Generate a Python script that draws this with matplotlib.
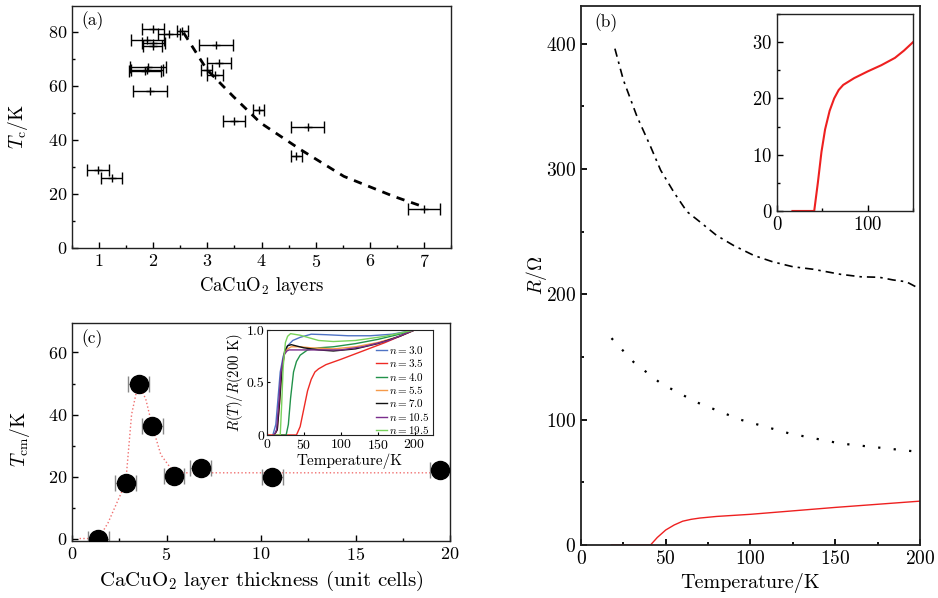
import matplotlib
matplotlib.use('Agg')
import matplotlib.pyplot as plt
from matplotlib.ticker import MultipleLocator

plt.rcParams['font.family'] = 'serif'
plt.rcParams['font.serif'] = ['cmr10', 'DejaVu Serif']
plt.rcParams['mathtext.fontset'] = 'cm'
plt.rcParams['axes.formatter.use_mathtext'] = True
plt.rcParams['axes.unicode_minus'] = False

# ---- panel (a): Tc vs CaCuO2 layers
layers_a = [2.00, 2.29, 2.54, 1.89, 2.00, 1.99, 3.16, 1.90, 1.88, 1.85, 3.22,
            2.99, 3.14, 1.94, 3.95, 3.49, 4.85, 4.64, 0.98, 1.23, 7.00]
tc_a = [80.9, 79.3, 80.2, 76.9, 75.9, 74.7, 74.9, 67.0, 66.0, 65.5, 68.5,
        66.0, 63.8, 58.0, 50.9, 46.9, 44.8, 34.2, 28.8, 25.7, 14.6]
xerr_a = [0.20, 0.20, 0.10, 0.31, 0.21, 0.18, 0.31, 0.33, 0.30, 0.30, 0.22,
          0.10, 0.15, 0.31, 0.10, 0.20, 0.31, 0.10, 0.20, 0.20, 0.30]
fit_x = [2.56, 2.99, 3.48, 3.98, 4.72, 5.52, 6.44, 6.97]
fit_y = [79.6, 66.0, 56.0, 46.3, 36.4, 26.5, 19.1, 15.4]

# ---- panel (c): Tcm vs layer thickness
thick_c = [1.38, 2.84, 3.53, 4.24, 5.40, 6.80, 10.59, 19.47]
tcm_c = [0.0, 18.0, 50.0, 36.4, 20.1, 22.9, 19.7, 22.1]
guide_x = [0.4, 1.4, 1.9, 2.84, 3.15, 3.5, 3.9, 4.24, 4.7, 5.4, 19.5]
guide_y = [0.0, 0.0, 5.0, 18.0, 40.0, 50.0, 45.0, 36.4, 27.0, 21.2, 21.2]

# ---- inset of (c): normalized R(T)
inset_c = [
    ('$n=3.0$', '#4f73c4',
     [8, 12, 15, 18, 22, 28, 35, 45, 60, 80, 110, 140, 170, 200],
     [0, 0.1, 0.35, 0.6, 0.75, 0.85, 0.9, 0.93, 0.96, 0.955, 0.945, 0.945, 0.96, 1.0]),
    ('$n=3.5$', '#ee2a24',
     [0, 40, 45, 50, 55, 60, 65, 70, 80, 100, 130, 160, 200],
     [0, 0, 0.08, 0.25, 0.42, 0.53, 0.6, 0.63, 0.67, 0.72, 0.8, 0.88, 1.0]),
    ('$n=4.0$', '#22924a',
     [20, 26, 29, 32, 36, 40, 45, 55, 70, 90, 120, 150, 180, 200],
     [0, 0, 0.1, 0.35, 0.6, 0.7, 0.76, 0.81, 0.83, 0.84, 0.87, 0.91, 0.96, 1.0]),
    ('$n=5.5$', '#f59a4a',
     [10, 14, 17, 20, 24, 28, 33, 45, 60, 90, 120, 150, 180, 200],
     [0, 0.05, 0.3, 0.6, 0.78, 0.82, 0.84, 0.84, 0.83, 0.82, 0.84, 0.88, 0.94, 1.0]),
    ('$n=7.0$', '#111111',
     [10, 14, 17, 20, 24, 28, 33, 50, 70, 90, 120, 150, 180, 200],
     [0, 0.05, 0.3, 0.6, 0.8, 0.85, 0.86, 0.83, 0.81, 0.80, 0.82, 0.87, 0.94, 1.0]),
    ('$n=10.5$', '#7a2d8c',
     [10, 13, 16, 19, 23, 27, 30, 60, 100, 130, 165, 200],
     [0, 0.05, 0.3, 0.6, 0.76, 0.8, 0.81, 0.81, 0.81, 0.84, 0.9, 1.0]),
    ('$n=19.5$', '#78d25c',
     [12, 18, 20, 22, 25, 28, 32, 45, 70, 90, 120, 160, 200],
     [0, 0, 0.3, 0.65, 0.88, 0.94, 0.965, 0.95, 0.9, 0.89, 0.9, 0.94, 1.0]),
]

# ---- panel (b): R(T)
temp_top = [20, 25, 33, 41, 47, 55, 62.5, 70, 80, 90, 102, 113, 125, 137,
            153, 165, 176, 184, 192, 198]
r_top = [396, 371, 342, 318, 299, 281, 266, 258, 247, 239, 231, 226, 222, 220,
         216, 214, 213.6, 211.5, 210, 205.7]
temp_mid = [18, 31, 47, 68, 94, 123, 153, 198]
r_mid = [165, 146, 129, 114, 100, 89, 81, 74.5]
temp_red = [18, 41, 45, 50, 55, 60, 65, 70, 80, 100, 150, 200]
r_red = [0, 0, 6, 12, 16, 19, 20.5, 21.5, 22.8, 24.5, 30, 35]
temp_ins = [17, 41, 45, 49, 53, 58, 63, 68, 73, 85, 100, 115, 130, 140, 150]
r_ins = [0, 0, 5, 10.5, 14.5, 17.8, 20, 21.5, 22.4, 23.6, 24.8, 25.9, 27.2, 28.5, 30]


def style(ax, size=13, lw=1.0):
    ax.tick_params(which='both', direction='in', labelsize=size, width=lw)
    ax.tick_params(which='major', length=4)
    ax.tick_params(which='minor', length=2.5)
    for s in ax.spines.values():
        s.set_linewidth(lw)
        s.set_color('#222222')


fig = plt.figure(figsize=(9.38, 5.98), dpi=100)

# (a)
ax_a = fig.add_axes([0.0768, 0.5853, 0.404, 0.4047])
ax_a.errorbar(layers_a, tc_a, xerr=xerr_a, fmt='+', color='black', ms=6,
              elinewidth=1.0, capsize=4, capthick=1.0)
ax_a.plot(fit_x, fit_y, color='black', lw=2.0, ls=(0, (3, 2.5)))
ax_a.set_xlim(0.5, 7.5)
ax_a.set_ylim(0, 89.5)
ax_a.xaxis.set_major_locator(MultipleLocator(1))
ax_a.xaxis.set_minor_locator(MultipleLocator(0.5))
ax_a.yaxis.set_major_locator(MultipleLocator(20))
ax_a.yaxis.set_minor_locator(MultipleLocator(10))
style(ax_a)
ax_a.set_xlabel('CaCuO$_2$ layers', fontsize=13.5)
ax_a.set_ylabel(r'$T_{\rm c}$/K', fontsize=14)
ax_a.yaxis.set_label_coords(-0.112, 0.5)
ax_a.text(0.025, 0.94, '(a)', transform=ax_a.transAxes, fontsize=12.5, va='center')

# (c)
ax_c = fig.add_axes([0.0768, 0.0953, 0.403, 0.3645])
ax_c.plot(guide_x, guide_y, color='#f07070', lw=1.0, ls=':', zorder=1)
ax_c.errorbar(thick_c, tcm_c, xerr=0.55, fmt='none', ecolor='#888888',
              elinewidth=1.0, capsize=6, capthick=1.0, zorder=2)
ax_c.plot(thick_c, tcm_c, 'o', color='black', ms=13, zorder=3)
ax_c.set_xlim(0, 20)
ax_c.set_ylim(-0.8, 69.5)
ax_c.xaxis.set_major_locator(MultipleLocator(5))
ax_c.xaxis.set_minor_locator(MultipleLocator(2.5))
ax_c.yaxis.set_major_locator(MultipleLocator(20))
ax_c.yaxis.set_minor_locator(MultipleLocator(10))
style(ax_c)
ax_c.set_xlabel('CaCuO$_2$ layer thickness (unit cells)', fontsize=15)
ax_c.set_ylabel(r'$T_{\rm cm}$/K', fontsize=14)
ax_c.yaxis.set_label_coords(-0.105, 0.47)
ax_c.text(0.025, 0.93, '(c)', transform=ax_c.transAxes, fontsize=12.5, va='center')

# inset of (c)
ax_ci = fig.add_axes([0.2846, 0.2726, 0.177, 0.1756])
for label, col, tt, rr in inset_c:
    ax_ci.plot(tt, rr, color=col, lw=1.0, label=label)
ax_ci.set_xlim(0, 225)
ax_ci.set_ylim(0, 1.0)
ax_ci.set_xticks([0, 50, 100, 150, 200])
ax_ci.set_yticks([0, 0.5, 1.0])
ax_ci.set_yticklabels(['0', '0.5', '1.0'])
style(ax_ci, size=10, lw=0.8)
ax_ci.tick_params(which='major', length=2.5, pad=2)
ax_ci.set_xlabel('Temperature/K', fontsize=11, labelpad=1)
ax_ci.set_ylabel(r'$R(T)/R(200\ \mathrm{K})$', fontsize=10.5, labelpad=1)
ax_ci.legend(loc='upper right', bbox_to_anchor=(1.02, 0.93), frameon=False,
             fontsize=8, handlelength=1.0, handletextpad=0.2,
             labelspacing=0.12, borderpad=0.1)

# (b)
ax_b = fig.add_axes([0.6194, 0.0886, 0.3614, 0.9013])
ax_b.plot(temp_top, r_top, color='black', lw=1.2, ls=(0, (5, 3, 1.5, 3)))
ax_b.plot(temp_mid, r_mid, color='black', lw=1.6, ls=(0, (1, 6)))
ax_b.plot(temp_red, r_red, color='#ee2020', lw=1.0)
ax_b.set_xlim(0, 200)
ax_b.set_ylim(0, 430)
ax_b.xaxis.set_major_locator(MultipleLocator(50))
ax_b.xaxis.set_minor_locator(MultipleLocator(25))
ax_b.yaxis.set_major_locator(MultipleLocator(100))
ax_b.yaxis.set_minor_locator(MultipleLocator(50))
style(ax_b, size=14, lw=1.3)
ax_b.set_xlabel('Temperature/K', fontsize=14.5)
ax_b.set_ylabel(r'$R/\Omega$', fontsize=14)
ax_b.yaxis.set_label_coords(-0.095, 0.5)
ax_b.text(0.04, 0.97, '(b)', transform=ax_b.transAxes, fontsize=12.5, va='center')

# inset of (b)
ax_bi = fig.add_axes([0.8284, 0.6472, 0.145, 0.3294])
ax_bi.plot(temp_ins, r_ins, color='#ee2020', lw=1.5)
ax_bi.set_xlim(0, 150)
ax_bi.set_ylim(0, 35)
ax_bi.xaxis.set_major_locator(MultipleLocator(100))
ax_bi.xaxis.set_minor_locator(MultipleLocator(50))
ax_bi.yaxis.set_major_locator(MultipleLocator(10))
ax_bi.yaxis.set_minor_locator(MultipleLocator(5))
style(ax_bi, size=13.5)

fig.savefig('out.png', dpi=100)
